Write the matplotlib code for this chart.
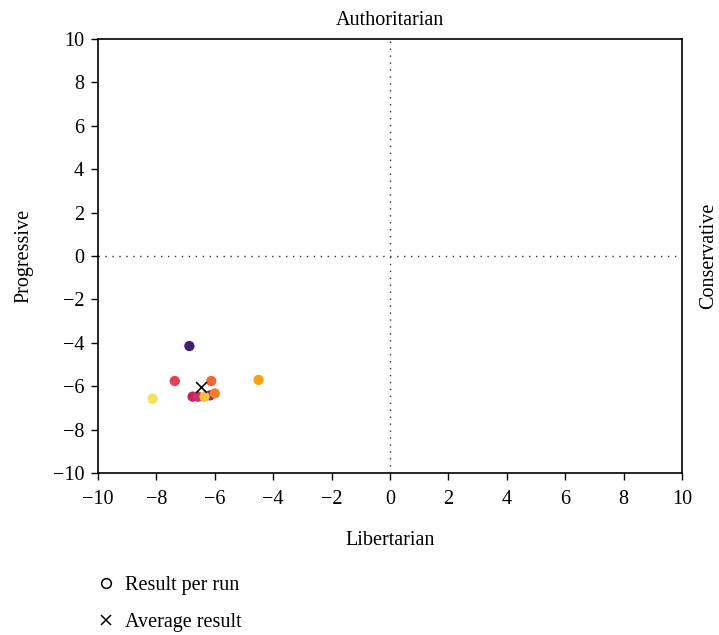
import matplotlib.pyplot as plt
from matplotlib.lines import Line2D

plt.rcParams['font.family'] = ['Liberation Serif', 'DejaVu Serif']

# results per run (libertarian/conservative axis, progressive/authoritarian axis)
run_x = [-6.87, -7.37, -6.12, -4.50, -8.13, -6.76, -6.58, -6.16, -6.35, -6.0]
run_y = [-4.15, -5.76, -5.76, -5.71, -6.58, -6.48, -6.48, -6.42, -6.48, -6.33]
run_colors = ['#43206b', '#e0404f', '#f0653a', '#f9a40e', '#f8e05e',
              '#c8235f', '#d0306a', '#8c2a80', '#fbc232', '#f28026']
avg_x = [-6.48]
avg_y = [-6.02]

fig = plt.figure(figsize=(7.19, 6.35), dpi=100)
ax = fig.add_axes([0.1363, 0.2551, 0.8122, 0.6835])

ax.axhline(0, color='#333333', linestyle=(0, (1, 4)), linewidth=1)
ax.axvline(0, color='#333333', linestyle=(0, (1, 4)), linewidth=1)

ax.scatter(run_x, run_y, c=run_colors, s=55, zorder=3, edgecolors='none')
ax.scatter(avg_x, avg_y, marker='x', color='black', s=60, linewidths=1.2, zorder=4)

ax.set_xlim(-10, 10)
ax.set_ylim(-10, 10)
ax.set_xticks(range(-10, 11, 2))
ax.set_yticks(range(-10, 11, 2))
ax.set_xticklabels([str(v).replace('-', '\u2212') for v in range(-10, 11, 2)])
ax.set_yticklabels([str(v).replace('-', '\u2212') for v in range(-10, 11, 2)])
ax.tick_params(labelsize=14.5, length=5, width=1)
ax.tick_params(axis='x', pad=7)
ax.tick_params(axis='y', pad=5)
for s in ax.spines.values():
    s.set_linewidth(1.2)

ax.set_xlabel('Libertarian', fontsize=14.5, labelpad=16)
ax.set_ylabel('Progressive', fontsize=14.5, labelpad=14)
ax.set_title('Authoritarian', fontsize=14.5, pad=10)
ax.text(1.046, 0.5, 'Conservative', transform=ax.transAxes, rotation=90,
        ha='center', va='center', fontsize=14.5)

handles = [
    Line2D([], [], marker='o', linestyle='none', markerfacecolor='none',
           markeredgecolor='black', markersize=7, markeredgewidth=1.1),
    Line2D([], [], marker='x', linestyle='none', color='black', markersize=7,
           markeredgewidth=1.1),
]
fig.legend(handles, ['Result per run', 'Average result'], loc='upper left',
           bbox_to_anchor=(0.105, 0.121), frameon=False, fontsize=14.5,
           handletextpad=0.35, labelspacing=0.85, handlelength=1.2)

fig.savefig('out.png', dpi=100)
